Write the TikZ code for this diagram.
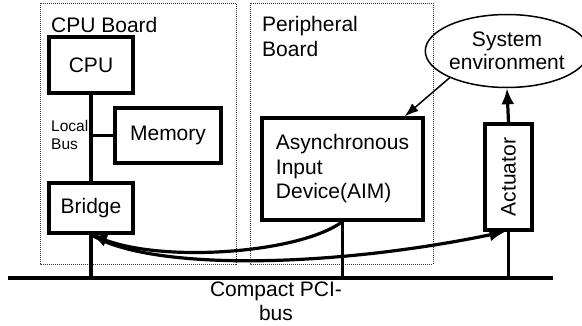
\documentclass[tikz,border=0pt]{standalone}
\usepackage{fontspec}
\setmainfont{Liberation Sans}
\usetikzlibrary{arrows.meta,shapes.geometric}
\begin{document}
\begin{tikzpicture}[x=1pt,y=-1pt,
  every node/.style={inner sep=0pt, font=\fontsize{21}{24.5}\selectfont},
  board/.style={draw=black!80, line width=0.8pt, dash pattern=on 1pt off 1pt},
  unit/.style={draw, line width=3.2pt, minimum width=#1},
  wire/.style={line width=3.2pt},
  flow/.style={line width=3.2pt, -{Latex[length=16pt,width=13pt]}},
  lbl/.style={align=left}]
\useasboundingbox (0,0) rectangle (582,325);

% dotted outlines of the two boards
\draw[board] (40,3) rectangle (236,264);
\draw[board] (250,3) rectangle (433,264);
\node[lbl, anchor=base west] (cpulbl) at (51,32) {CPU Board};
\node[lbl, anchor=north west] (perlbl) at (262,16.5) {Peripheral\\Board};

% CPU board components
\node[unit=84pt, minimum height=56pt] (cpu) at (91,65) {CPU};
\node[unit=106pt, minimum height=55pt] (mem) at (168,135.5) {Memory};
\node[unit=84pt, minimum height=50pt] (bridge) at (91,208) {Bridge};
\node[lbl, anchor=north west, font=\fontsize{15.5}{18}\selectfont] (localbus) at (51,120.5) {Local\\Bus};

% peripheral components
\node[unit=161pt, minimum height=102pt, align=left] (aim) at (342.5,169) {Asynchronous\\Input\\Device(AIM)};
\node[unit=47pt, minimum height=106pt] (act) at (508.5,177) {};
\node[rotate=90] (acttext) at (act.center) {Actuator};
\node[ellipse, draw, line width=1.5pt, minimum width=148pt, minimum height=73pt, align=center,
      font=\fontsize{21}{23}\selectfont] (env) at (507,51) {System\\environment};

% Compact PCI bus
\coordinate (busL) at (8,278);
\coordinate (busR) at (553,278);
\draw[line width=3.6pt] (busL) -- (busR);
\node[align=center, anchor=north, font=\fontsize{21}{23.5}\selectfont] (buslbl) at (276,282) {Compact PCI-\\bus};

% local bus wiring
\draw[wire] (cpu.south) -- (bridge.north);
\draw[wire] (cpu.south |- mem.west) -- (mem.west);
\draw[wire] (bridge.south) -- (bridge.south |- busL);
\draw[wire] (aim.south) -- (aim.south |- busL);
\draw[wire] (act.south) -- (act.south |- busL);

% signal paths
\draw[line width=1.5pt, -{Latex[length=14pt,width=10pt]}] (env.205) -- ([xshift=-20pt]aim.north east);
\draw[flow] (act.north) -- (env.south);
\draw[flow] (aim.south) .. controls (300,253) and (165,263) .. (bridge.south);
\draw[flow] (bridge.south) .. controls (150,271) and (330,268) .. ([xshift=-3pt]act.south);
\end{tikzpicture}
\end{document}
